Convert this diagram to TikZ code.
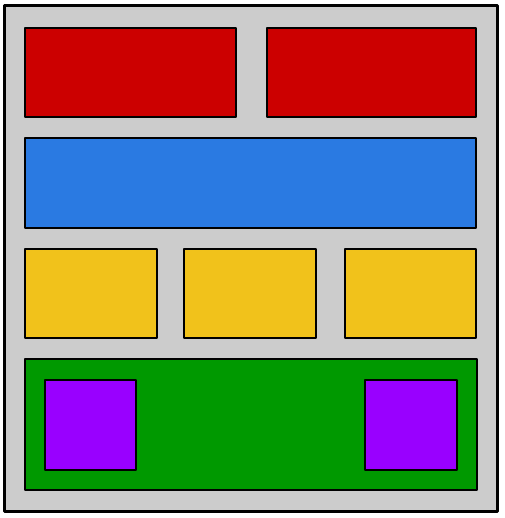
\documentclass[tikz,border=0pt]{standalone}
\begin{document}
\begin{tikzpicture}[x=1pt,y=-1pt,
  blk/.style={draw=black, line width=2.6pt, line join=round, anchor=north west, inner sep=0pt, outer sep=0pt},
  ]
\definecolor{cgrey}{HTML}{CCCCCC}
\definecolor{cred}{HTML}{CC0000}
\definecolor{cblue}{HTML}{2A7AE2}
\definecolor{cyellow}{HTML}{F1C21B}
\definecolor{cgreen}{HTML}{009900}
\definecolor{cpurple}{HTML}{9900FF}
\useasboundingbox (0,0) rectangle (504,518);
\node[blk, fill=cgrey, line width=3pt, minimum width=493pt, minimum height=505pt] (outer) at (4,6) {};
\node[blk, fill=cred, minimum width=211pt, minimum height=89pt] (red1) at (25,28) {};
\node[blk, fill=cred, minimum width=209pt, minimum height=89pt] (red2) at (267,28) {};
\node[blk, fill=cblue, minimum width=451pt, minimum height=90pt] (blue) at (25,138) {};
\node[blk, fill=cyellow, minimum width=132pt, minimum height=89pt] (y1) at (25,249) {};
\node[blk, fill=cyellow, minimum width=132pt, minimum height=89pt] (y2) at (184,249) {};
\node[blk, fill=cyellow, minimum width=131pt, minimum height=89pt] (y3) at (345,249) {};
\node[blk, fill=cgreen, minimum width=452pt, minimum height=131pt] (green) at (25,359) {};
\node[blk, fill=cpurple, minimum width=91pt, minimum height=90pt] (p1) at (45,380) {};
\node[blk, fill=cpurple, minimum width=92pt, minimum height=90pt] (p2) at (365,380) {};
\end{tikzpicture}
\end{document}
